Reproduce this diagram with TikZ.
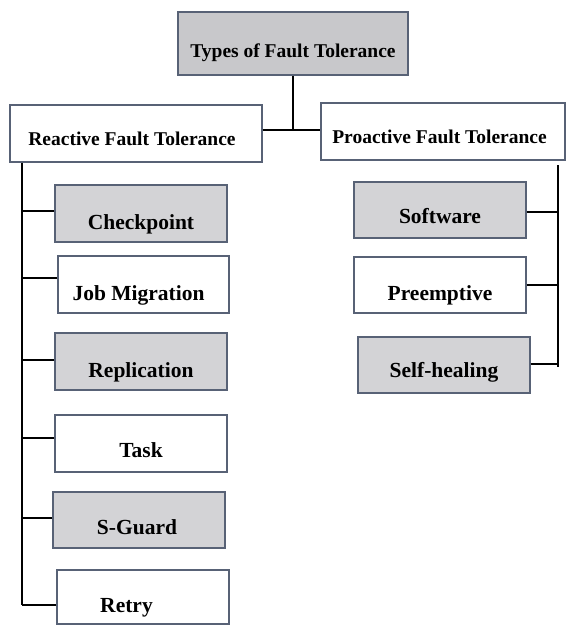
\documentclass[tikz,border=0pt]{standalone}
\usepackage{fontspec}
\setmainfont{Liberation Serif}
\definecolor{boxline}{RGB}{88,98,118}
\definecolor{headgray}{RGB}{200,200,203}
\definecolor{boxgray}{RGB}{211,211,214}
\begin{document}
\begin{tikzpicture}[x=1pt,y=-1pt,
  box/.style={draw=boxline, line width=1.2pt, fill=white, inner sep=0pt,
    minimum width=172pt, font=\bfseries\fontsize{21.5}{22}\selectfont},
  headbox/.style={box, font=\bfseries\fontsize{19.5}{20}\selectfont},
  shaded/.style={fill=boxgray},
  tall/.style 2 args={text height=#1pt, text depth=#2pt},
  link/.style={draw=black, line width=1.3pt}]
\useasboundingbox[fill=white] (0,0) rectangle (566,626);

% root and the two branches
\node[headbox, fill=headgray, minimum width=230pt, tall={46}{17}] (title) at (293,43.5) {Types of Fault Tolerance};
\node[headbox, minimum width=252pt, tall={40}{17}] (reactive) at (136,133.5) {Reactive Fault Tolerance\kern8pt};
\node[headbox, minimum width=244pt, tall={40}{17}] (proactive) at (443,131.5) {Proactive Fault Tolerance\kern7pt};

% reactive techniques
\node[box, shaded, tall={44}{13}] (checkpoint) at (141,213.5) {Checkpoint};
\node[box, minimum width=171pt, tall={44}{13}] (jobmig) at (143.5,284.5) {Job Migration\kern10pt};
\node[box, shaded, tall={44}{13}] (replication) at (141,361.5) {Replication};
\node[box, tall={42}{15}] (task) at (141,443.5) {Task};
\node[box, shaded, tall={42}{14}] (sguard) at (139,520) {S-Guard\kern4pt};
\node[box, tall={42}{12}] (retry) at (143,597) {Retry\kern33pt};

% proactive techniques
\node[box, shaded, tall={41}{15}] (software) at (440,210) {Software};
\node[box, tall={43}{13}] (preemptive) at (440,285) {Preemptive};
\node[box, shaded, tall={40}{16}] (selfheal) at (444,365) {Self-healing};

% root connectors
\coordinate (j) at (293,130);
\draw[link] (title.south) -- (j);
\draw[link] (reactive.east |- j) -- (proactive.west |- j);

% reactive trunk
\coordinate (lbot) at (22,605);
\draw[link] (reactive.south -| lbot) -- (lbot);
\draw[link] ([yshift=2.5pt]checkpoint.west) -- ([yshift=2.5pt]checkpoint.west -| lbot);
\draw[link] ([yshift=6.5pt]jobmig.west) -- ([yshift=6.5pt]jobmig.west -| lbot);
\draw[link] ([yshift=1.5pt]replication.west) -- ([yshift=1.5pt]replication.west -| lbot);
\draw[link] ([yshift=5.5pt]task.west) -- ([yshift=5.5pt]task.west -| lbot);
\draw[link] ([yshift=2pt]sguard.west) -- ([yshift=2pt]sguard.west -| lbot);
\draw[link] ([yshift=-8pt]retry.west) -- (lbot);

% proactive trunk
\coordinate (rtop) at (558,165);
\coordinate (rbot) at (558,367);
\draw[link] (rtop) -- (rbot);
\draw[link] ([yshift=-2pt]software.east) -- ([yshift=-2pt]software.east -| rtop);
\draw[link] (preemptive.east) -- (preemptive.east -| rtop);
\draw[link] ([yshift=1pt]selfheal.east) -- ([yshift=1pt]selfheal.east -| rtop);
\end{tikzpicture}
\end{document}
